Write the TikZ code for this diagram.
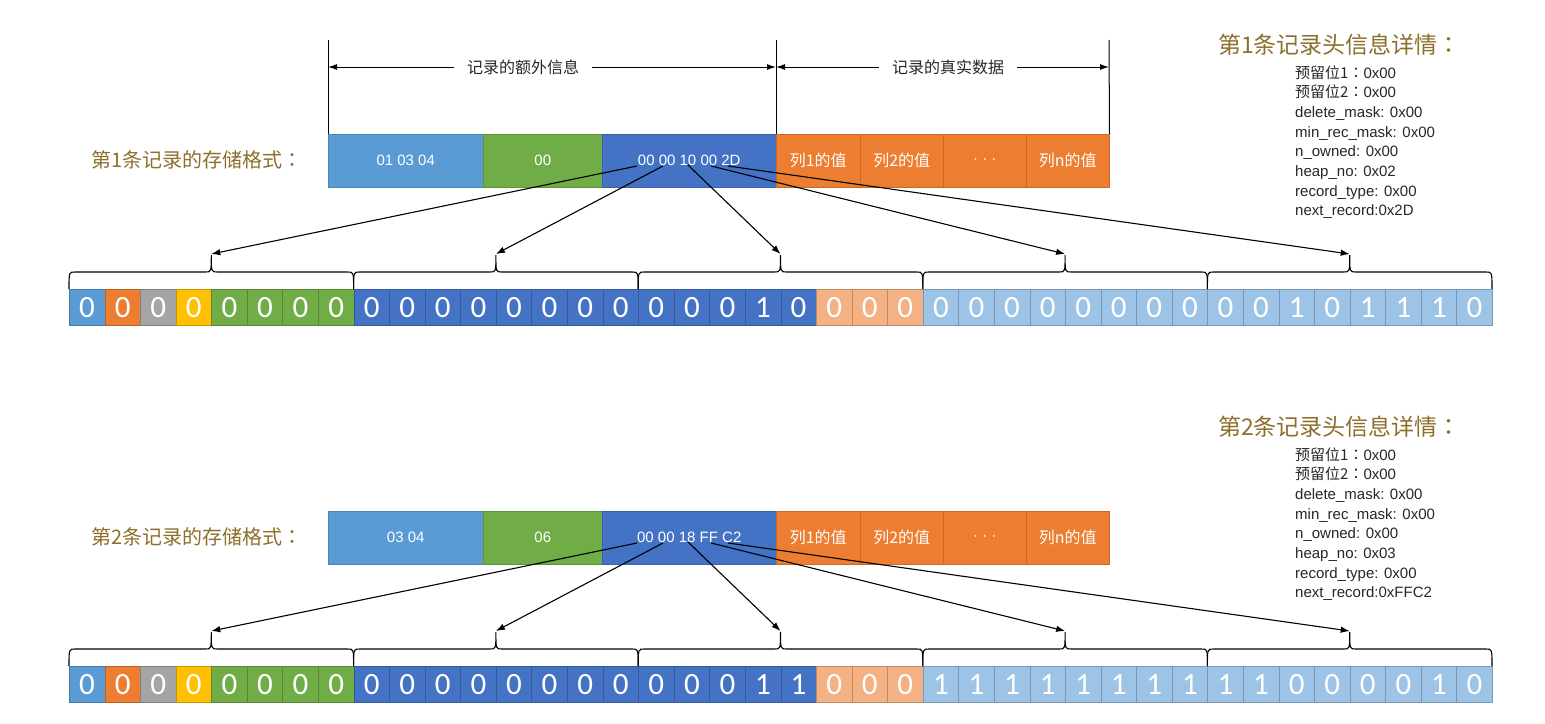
\documentclass[tikz,border=0pt]{standalone}
\usepackage{fontspec}
\setmainfont{Liberation Sans}
\newfontfamily\cjk{Noto Sans CJK SC}
\newfontfamily\cjktc{Noto Sans CJK TC}
\newfontfamily\bitfont{Carlito}
\usetikzlibrary{arrows.meta}
\definecolor{cA}{HTML}{5B9BD5}
\definecolor{cG}{HTML}{70AD47}
\definecolor{cB}{HTML}{4472C4}
\definecolor{cO}{HTML}{ED7D31}
\definecolor{cGr}{HTML}{A5A5A5}
\definecolor{cY}{HTML}{FFC000}
\definecolor{cLO}{HTML}{F4B183}
\definecolor{cLB}{HTML}{9DC3E6}
\definecolor{gold}{HTML}{8D6E2B}
\begin{document}
\begin{tikzpicture}[x=1pt,y=-1pt,
  rbox/.style={fill=#1, draw=#1!85!black, line width=0.5pt, minimum height=53pt, inner sep=0pt, anchor=north west, text=white, font=\fontsize{15}{15}\selectfont},
  bit/.style={fill=#1, draw=#1!78!black, line width=0.6pt, minimum width=35.575pt, minimum height=36pt, inner sep=0pt, anchor=north west, text=white, font=\bitfont\fontsize{31}{31}\selectfont},
  arr/.style={line width=1.1pt, -{Latex[length=9pt,width=6.5pt]}},
  brc/.style={line width=1.1pt},
  lbl/.style={text=gold, font=\cjk\fontsize{20}{20}\selectfont, anchor=west, inner sep=0pt},
  ttl/.style={text=gold, font=\cjk\fontsize{23}{23}\selectfont, anchor=west, inner sep=0pt},
  det/.style={text=black!85, font=\fontsize{15}{15}\selectfont, anchor=base west, inner sep=0pt},
  dim/.style={line width=1pt, -{Latex[length=9pt,width=6pt]}},
  dimlbl/.style={font=\cjk\fontsize{16}{16}\selectfont, text=black!85, inner xsep=13pt, inner ysep=0pt}
]
\useasboundingbox (0,0) rectangle (1545,723);

% bit rows
\foreach \r/\y/\bits in {1/289/{0,0,0,0,0,0,0,0,0,0,0,0,0,0,0,0,0,0,0,1,0,0,0,0,0,0,0,0,0,0,0,0,0,0,1,0,1,1,1,0},
                         2/666/{0,0,0,0,0,0,0,0,0,0,0,0,0,0,0,0,0,0,0,1,1,0,0,0,1,1,1,1,1,1,1,1,1,1,0,0,0,0,1,0}} {
  \foreach \v [count=\i from 0] in \bits {
    \ifcase\i \def\cc{cA}\or \def\cc{cO}\or \def\cc{cGr}\or \def\cc{cY}\or \def\cc{cG}\or \def\cc{cG}\or \def\cc{cG}\or \def\cc{cG}\else
      \ifnum\i<21 \def\cc{cB}\else \ifnum\i<24 \def\cc{cLO}\else \def\cc{cLB}\fi\fi
    \fi
    \node[bit=\cc] (b\r-\i) at ({69+35.575*\i},\y) {\v};
  }
  \foreach \g in {0,...,4} {
    \pgfmathsetmacro\xl{69+284.6*\g}
    \pgfmathsetmacro\xr{\xl+284.6}
    \pgfmathsetmacro\xm{\xl+142.3}
    \draw[brc] (\xl,\y) .. controls (\xl,\y-17) .. (\xl+6,\y-17) -- (\xm-6,\y-17)
      .. controls (\xm,\y-17) .. (\xm,\y-34) .. controls (\xm,\y-17) .. (\xm+6,\y-17)
      -- (\xr-6,\y-17) .. controls (\xr,\y-17) .. (\xr,\y);
    \coordinate (t\r-\g) at (\xm,\y-35);
  }
}

% record rows
\foreach \r/\dy/\ta/\tb/\tc in {1/0/{01 03 04}/00/{00 00 10 00 2D}, 2/377/{03 04}/06/{00 00 18 FF C2}} {
  \node[lbl] (lab\r) at (91,160+\dy) {第{\r}条记录的存储格式{\cjktc ：}};
  \node[rbox=cA, minimum width=155pt] (ra\r) at (328,134+\dy) {\ta};
  \node[rbox=cG, minimum width=119pt] (rb\r) at (483,134+\dy) {\tb};
  \node[rbox=cB, minimum width=174pt] (rc\r) at (602,134+\dy) {\tc};
  \node[rbox=cO, minimum width=84pt, font=\cjk\fontsize{16}{16}\selectfont] (rd\r) at (776,134+\dy) {列1的值};
  \node[rbox=cO, minimum width=83pt, font=\cjk\fontsize{16}{16}\selectfont] (re\r) at (860,134+\dy) {列2的值};
  \node[rbox=cO, minimum width=83pt] (rf\r) at (943,134+\dy) {· · ·};
  \node[rbox=cO, minimum width=83pt, font=\cjk\fontsize{16}{16}\selectfont] (rg\r) at (1026,134+\dy) {列n的值};
  \coordinate (s\r-0) at (637,166+\dy);
  \coordinate (s\r-1) at (663,166+\dy);
  \coordinate (s\r-2) at (688,165+\dy);
  \coordinate (s\r-3) at (711,166+\dy);
  \coordinate (s\r-4) at (728,166+\dy);
  \foreach \g in {0,...,4} \draw[arr] (s\r-\g) -- (t\r-\g);
}

% dimension lines
\coordinate (v1t) at (328,40);
\coordinate (v2t) at (776,40);
\coordinate (v3t) at (1109,40);
\draw[line width=1pt] (v1t) -- (ra1.north west);
\draw[line width=1pt] (v2t) -- (rd1.north west);
\draw[line width=1pt] (v3t) -- (rg1.north east);
\coordinate (v1) at (328,67);
\coordinate (v2) at (776,67);
\coordinate (v3) at (1109,67);
\node[dimlbl] (L1) at (523,67) {记录的额外信息};
\node[dimlbl] (L2) at (948,67) {记录的真实数据};
\draw[dim] (L1.west) -- (v1);
\draw[dim] (L1.east) -- (v2);
\draw[dim] (L2.west) -- (v2);
\draw[dim] (L2.east) -- (v3);

% header details
\foreach \r/\dy/\hn/\nr in {1/0/02/2D, 2/382/03/FFC2} {
  \node[ttl] (T\r) at (1218,45+\dy) {第{\r}条记录头信息详情{\cjktc ：}};
  \node[det] (d\r-1) at (1295,78+\dy) {{\cjk 预留位1}{\cjktc ：}0x00};
  \node[det] (d\r-2) at (1295,97.7+\dy) {{\cjk 预留位2}{\cjktc ：}0x00};
  \node[det] (d\r-3) at (1295,117.4+\dy) {delete\_mask: 0x00};
  \node[det] (d\r-4) at (1295,137.1+\dy) {min\_rec\_mask: 0x00};
  \node[det] (d\r-5) at (1295,156.8+\dy) {n\_owned: 0x00};
  \node[det] (d\r-6) at (1295,176.5+\dy) {heap\_no: 0x\hn};
  \node[det] (d\r-7) at (1295,196.2+\dy) {record\_type: 0x00};
  \node[det] (d\r-8) at (1295,215.9+\dy) {next\_record:0x\nr};
}
\end{tikzpicture}
\end{document}
